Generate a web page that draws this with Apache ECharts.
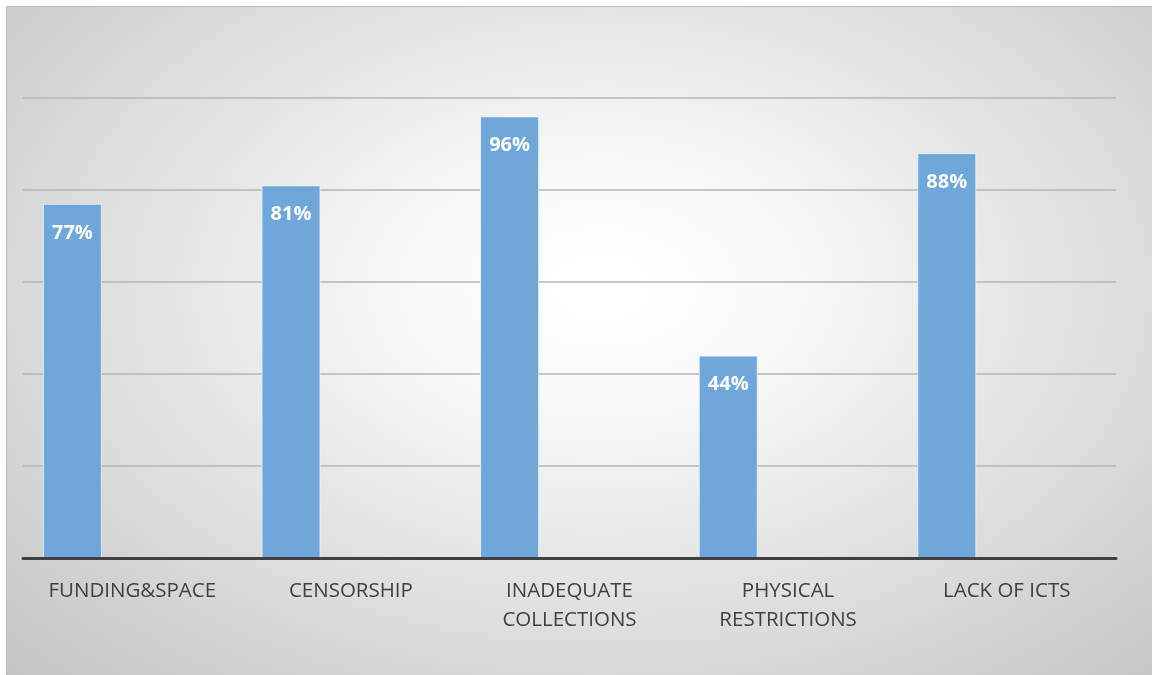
<!DOCTYPE html>
<html>
<head>
<meta charset="utf-8">
<script src="https://cdn.jsdelivr.net/npm/echarts@6/dist/echarts.min.js"></script>
<style>
html,body{margin:0;padding:0;background:#ffffff;}
#bg{position:absolute;left:6px;top:6px;width:1146px;height:669px;box-sizing:border-box;border-left:1px solid #bdbdbd;border-top:1px solid #bdbdbd;
background:radial-gradient(ellipse at 52% 42%, #ffffff 0%, #fafafa 20%, #e6e6e6 50%, #c4c4c4 100%);}
#chart{position:absolute;left:0;top:0;width:1152px;height:675px;}
</style>
</head>
<body>
<div id="bg"></div>
<div id="chart"></div>
<script>
const categories = ['FUNDING&SPACE', 'CENSORSHIP', 'INADEQUATE\nCOLLECTIONS', 'PHYSICAL\nRESTRICTIONS', 'LACK OF ICTS'];
const values = [77, 81, 96, 44, 88];
const yTicks = { min: 0, max: 100, interval: 20 };

const chart = echarts.init(document.getElementById('chart'), null, { renderer: 'canvas' });
chart.setOption({
  backgroundColor: 'transparent',
  animation: false,
  grid: { left: 23, right: 36, top: 98, bottom: 117, containLabel: false },
  xAxis: {
    type: 'category',
    data: categories,
    axisLine: { show: true, lineStyle: { color: '#404040', width: 3 } },
    axisTick: { show: false },
    axisLabel: {
      color: '#404040', fontSize: 20.5, fontFamily: 'Open Sans, Liberation Sans, sans-serif',
      margin: 19, lineHeight: 29, interval: 0
    },
    z: 5
  },
  yAxis: {
    type: 'value',
    min: yTicks.min, max: yTicks.max, interval: yTicks.interval,
    axisLine: { show: false }, axisTick: { show: false }, axisLabel: { show: false },
    splitLine: { show: true, lineStyle: { color: '#b4b4b4', width: 1.5 } }
  },
  series: [
    {
      type: 'bar',
      data: values,
      barWidth: 59,
      barGap: '103%',
      itemStyle: { color: '#6fa7da', borderColor: 'rgba(235,242,250,0.8)', borderWidth: 1 },
      label: {
        show: true, position: 'insideTop', distance: 19,
        formatter: '{c}%', color: '#ffffff', fontWeight: 'bold', fontSize: 20,
        fontFamily: 'Open Sans, Liberation Sans, sans-serif'
      }
    },
    {
      type: 'bar',
      data: categories.map(() => '-'),
      barWidth: 59
    }
  ]
});
</script>
</body>
</html>
